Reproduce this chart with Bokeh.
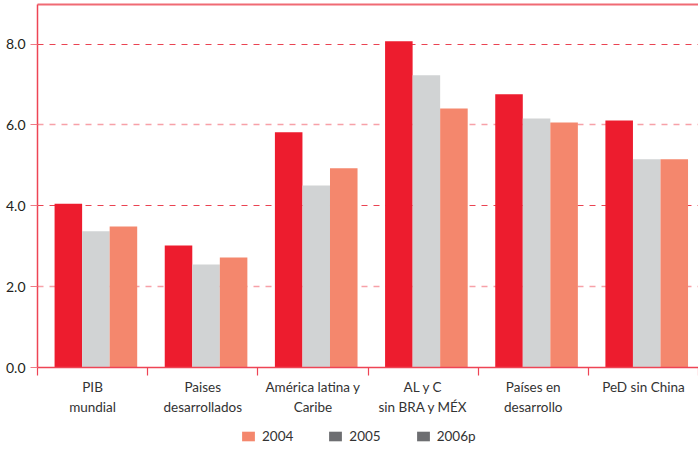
from bokeh.plotting import figure
from bokeh.layouts import column
from bokeh.models import (Range1d, LinearAxis, FixedTicker,
                          NumeralTickFormatter, Grid, Legend, LegendItem, ColumnDataSource)
from bokeh.transform import dodge
from bokeh.embed import file_html
from bokeh.resources import INLINE

categories = ["PIB\nmundial", "Paises\ndesarrollados", "América latina y\nCaribe",
              "AL y C\nsin BRA y MÉX", "Países en\ndesarrollo", "PeD sin China"]
series_red = [4.05, 3.02, 5.82, 8.07, 6.76, 6.11]
series_gray = [3.37, 2.55, 4.50, 7.23, 6.16, 5.15]
series_salmon = [3.49, 2.72, 4.93, 6.41, 6.06, 5.15]
legend_labels = ["2004", "2005", "2006p"]
y_ticks = [0, 2, 4, 6, 8]
y_grid_dark = [4, 8]
y_grid_light = [2, 6]

n = len(categories)
centers = [i + 0.5 for i in range(n)]
boundaries = list(range(n + 1))

RED = "#ED1C2E"
GRAY = "#D1D3D4"
SALMON = "#F4876D"
LEG_GRAY = "#6D6E71"
AXIS_RED = "#EE4455"
FONT = "Lato"

src = ColumnDataSource(dict(x=centers, red=series_red, gray=series_gray, salmon=series_salmon))

p = figure(x_range=Range1d(0, n), y_range=Range1d(0, 8.98),
           frame_width=661, frame_height=363,
           output_backend="svg", toolbar_location=None,
           x_axis_location=None, y_axis_location=None,
           min_border_left=37, min_border_top=4, min_border_right=0, min_border_bottom=0,
           outline_line_color=None)
p.xgrid.visible = False
p.ygrid.visible = False

bw = 0.25
p.vbar(x=dodge("x", -0.22), top="red", width=bw, source=src, fill_color=RED, line_color=None)
p.vbar(x=dodge("x", 0.03), top="gray", width=bw, source=src, fill_color=GRAY, line_color=None)
p.vbar(x=dodge("x", 0.28), top="salmon", width=bw, source=src, fill_color=SALMON, line_color=None)

# grids
p.add_layout(Grid(dimension=1, ticker=FixedTicker(ticks=y_grid_light),
                  grid_line_color="#F7A1A8", grid_line_dash="6 6", grid_line_width=1.5))
p.add_layout(Grid(dimension=1, ticker=FixedTicker(ticks=y_grid_dark),
                  grid_line_color="#EA4352", grid_line_dash="6 6", grid_line_width=1.2))

# y axis
yaxis = LinearAxis(ticker=FixedTicker(ticks=y_ticks),
                   formatter=NumeralTickFormatter(format="0.0"),
                   axis_line_color=AXIS_RED, axis_line_width=1.5,
                   major_tick_out=7, major_tick_in=0, minor_tick_out=0, minor_tick_in=0,
                   major_tick_line_color="#F07A84",
                   major_label_standoff=5,
                   major_label_text_font=FONT, major_label_text_font_size="14px",
                   major_label_text_color="#231F20")
p.add_layout(yaxis, "left")

# top line
top_axis = LinearAxis(ticker=FixedTicker(ticks=[]),
                      axis_line_color="#F06A74", axis_line_width=2,
                      major_tick_out=0, major_tick_in=0, minor_tick_out=0, minor_tick_in=0,
                      major_label_standoff=0)
p.add_layout(top_axis, "above")

# bottom axis: labels at category centres, tick marks at category boundaries
xaxis = LinearAxis(ticker=FixedTicker(ticks=centers, minor_ticks=boundaries),
                   major_label_overrides={c: lab for c, lab in zip(centers, categories)},
                   axis_line_color=AXIS_RED, axis_line_width=1.5,
                   major_tick_out=0, major_tick_in=0,
                   minor_tick_out=8, minor_tick_in=0, minor_tick_line_color=AXIS_RED,
                   minor_tick_line_width=1.2,
                   major_label_standoff=3,
                   major_label_text_font=FONT, major_label_text_font_size="13.5px",
                   major_label_text_color="#333333",
                   major_label_text_line_height=1.3)
p.add_layout(xaxis, "below")

# legend strip (colours as in the original's legend), drawn in a small figure below
p2 = figure(x_range=Range1d(0, 1), y_range=Range1d(0, 1),
            frame_width=661, frame_height=28,
            output_backend="svg", toolbar_location=None,
            x_axis_location=None, y_axis_location=None,
            min_border_left=37, min_border_top=0, min_border_right=0, min_border_bottom=0,
            outline_line_color=None)
p2.xgrid.visible = False
p2.ygrid.visible = False
leg_colors = [SALMON, LEG_GRAY, LEG_GRAY]
# zero-height placeholder bars: they give the legend swatches their colour
leg_src = ColumnDataSource(dict(x=[0.5], top=[0]))
leg_renderers = [p2.vbar(x="x", top="top", width=0.01, source=leg_src,
                         fill_color=c, line_color=None) for c in leg_colors]
legend = Legend(items=[LegendItem(label=l, renderers=[r]) for l, r in zip(legend_labels, leg_renderers)],
                orientation="horizontal", location=(203, 2),
                glyph_width=16, glyph_height=12, label_standoff=6, spacing=34,
                label_text_font=FONT, label_text_font_size="13.5px", label_text_color="#333333",
                label_height=12, padding=0, margin=0,
                border_line_color=None, background_fill_alpha=0)
p2.add_layout(legend)

layout = column(p, p2, spacing=0)
open("out.html", "w").write(file_html(layout, INLINE))
